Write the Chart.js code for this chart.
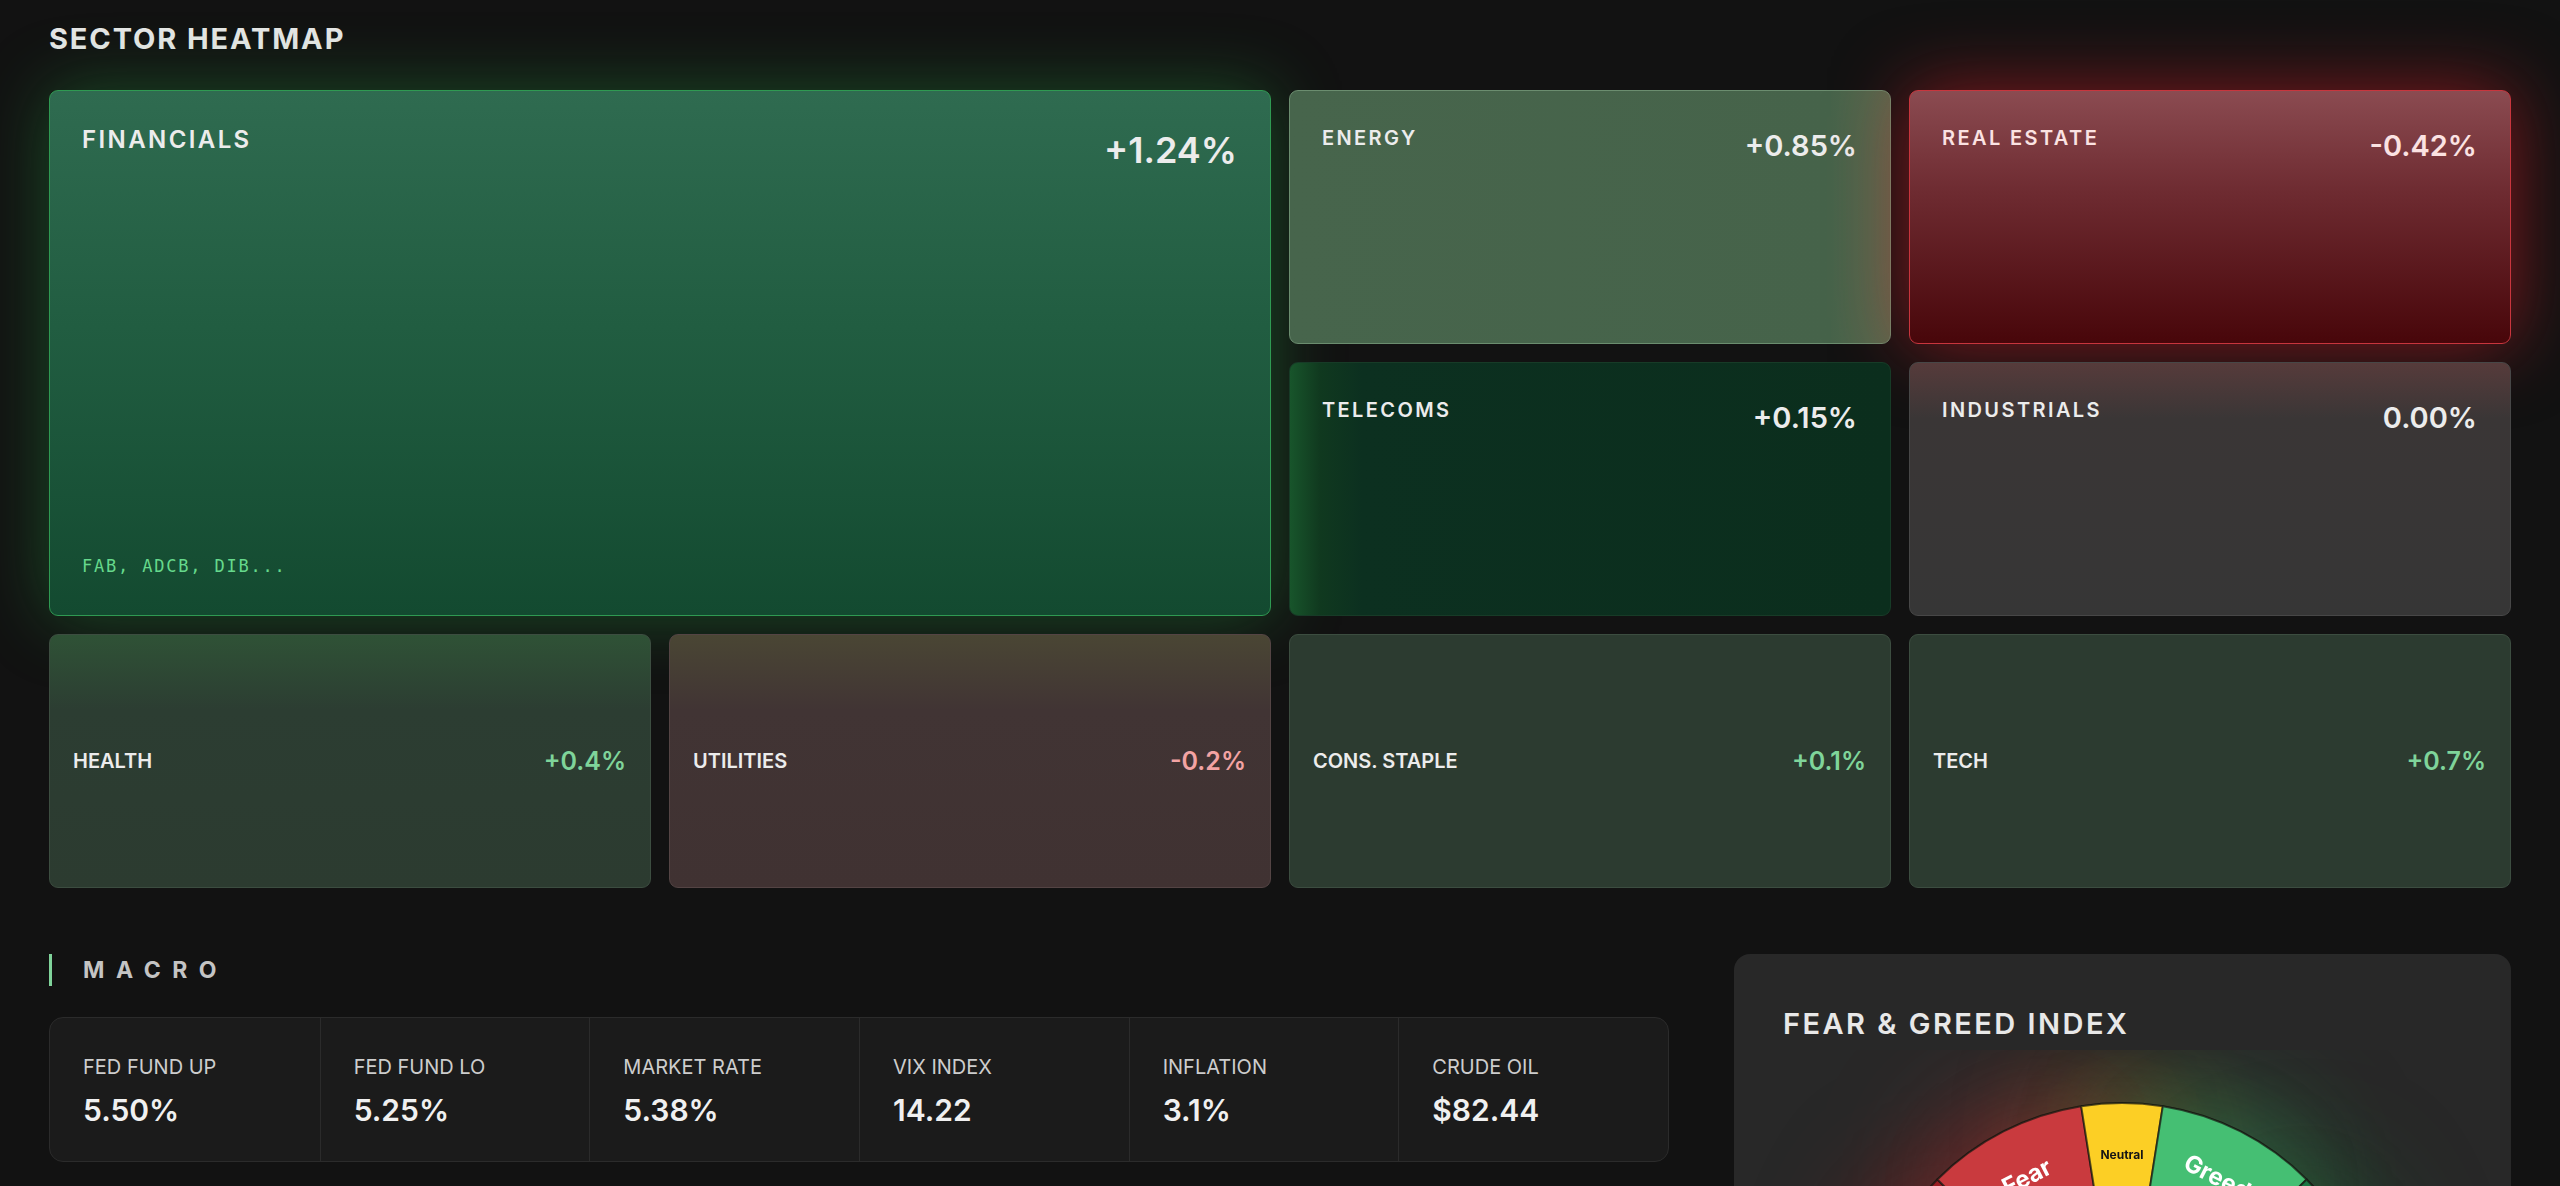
<!DOCTYPE html>
<html>
<head>
<meta charset="utf-8">
<title>Sector Heatmap</title>
<script src="https://cdn.jsdelivr.net/npm/chart.js@4.4.1/dist/chart.umd.min.js"></script>
<style>
  body {
    margin: 0;
    width: 2560px;
    height: 1186px;
    overflow: hidden;
    background: #121212;
    font-family: Inter, "Noto Sans", sans-serif;
    color: #ececec;
  }
  .page { padding-left: 49px; }
  .sec-title {
    margin: 21px 0 0;
    font-size: 29px;
    line-height: 35px;
    font-weight: 700;
    letter-spacing: 0.065em;
    color: #e6e6e6;
  }
  .heatmap {
    display: grid;
    grid-template-columns: repeat(4, 602px);
    grid-template-rows: repeat(3, 254px);
    gap: 18px;
    margin-top: 34px;
  }
  .tile {
    position: relative;
    box-sizing: border-box;
    border-radius: 9px;
    border: 1.5px solid #3c4d40;
    display: flex;
    justify-content: space-between;
    align-items: flex-start;
    padding: 35px 33px 0 32px;
  }
  .tile .name { font-size: 20px; line-height: 24px; font-weight: 600; letter-spacing: 0.12em; }
  .tile .chg { font-size: 29px; line-height: 35px; font-weight: 600; margin-top: 2px; }
  .tile.big { grid-column: span 2; grid-row: span 2; padding-top: 34px; }
  .tile.big .name { font-size: 24px; line-height: 29px; letter-spacing: 0.1em; }
  .tile.big .chg { font-size: 36px; line-height: 44px; margin-top: 3px; }
  .tile .holdings {
    position: absolute;
    left: 32px;
    bottom: 39px;
    font-family: "DejaVu Sans Mono", monospace;
    font-size: 17px;
    letter-spacing: 1.8px;
    color: #66d98c;
  }
  .tile.small { align-items: center; padding: 0 24px 0 23px; }
  .tile.small .name { letter-spacing: 0; }
  .tile.small .chg { font-size: 25px; line-height: 30px; margin-top: 0; }
  .tile.small .chg.up { color: #7fd49a; }
  .tile.small .chg.down { color: #f3a3a3; }

  .t-fin {
    background: linear-gradient(180deg, #2f6b50 0%, #215d41 45%, #134a30 100%);
    border-color: #2f9a52;
    box-shadow: 0 0 70px rgba(40, 170, 70, 0.38);
  }
  .t-energy {
    background: linear-gradient(90deg, #47654c 0%, #46634a 90%, #56684d 100%);
    border-color: #6b8d6f;
  }
  .t-real {
    background: linear-gradient(180deg, #8b4b51 0%, #6e2b31 40%, #48060a 100%);
    border-color: #c8353d;
    box-shadow: 0 0 75px rgba(225, 30, 40, 0.55);
  }
  .t-real .name, .t-real .chg { color: #fbe2e2; }
  .t-tel {
    background: linear-gradient(90deg, #18552b 0%, #10391f 5%, #0c3020 12%, #0b2e1d 100%);
    border-color: #173b27;
  }
  .t-ind {
    background: linear-gradient(180deg, #563b3b 0%, #3a3636 22%, #363636 100%);
    border-color: #474747;
  }
  .t-health {
    background: linear-gradient(180deg, #2f5236 0%, #2c3d32 30%, #2c3b30 100%);
    border-color: #3c4d40;
  }
  .t-util {
    background: linear-gradient(180deg, #4a4634 0%, #413434 30%, #403232 100%);
    border-color: #544444;
  }
  .t-cons, .t-tech {
    background: #2c3b30;
    border-color: #3c4d40;
  }

  .bottom { display: flex; margin-top: 66px; }
  .macro-col { width: 1620px; }
  .macro-head {
    height: 32px;
    border-left: 3px solid #7fd39a;
    padding-left: 31px;
    font-size: 23px;
    line-height: 32px;
    font-weight: 700;
    letter-spacing: 0.5em;
    color: #c4c4c4;
  }
  .macro-panel {
    margin-top: 31px;
    height: 145px;
    box-sizing: border-box;
    display: grid;
    grid-template-columns: repeat(6, 1fr);
    background: #1b1b1b;
    border: 1px solid #2b2b2b;
    border-radius: 14px;
  }
  .macro-cell { padding: 37px 0 0 33px; border-left: 1px solid #2b2b2b; }
  .macro-cell:first-child { border-left: none; }
  .m-label { font-size: 20px; line-height: 24px; color: #cdcdcd; }
  .m-val { font-size: 30px; line-height: 36px; font-weight: 600; margin-top: 13px; color: #f0f0f0; }

  .fg {
    position: relative;
    margin-left: 65px;
    width: 777px;
    height: 420px;
    box-sizing: border-box;
    padding: 52px 0 0 49px;
    background: #282828;
    border-radius: 16px;
  }
  .fg h2 {
    margin: 0;
    font-size: 29px;
    line-height: 35px;
    font-weight: 600;
    letter-spacing: 0.085em;
    color: #e8e8e8;
  }
  #fearGreed { position: absolute; left: 0; top: 96px; }
</style>
</head>
<body>
<div class="page">
  <h1 class="sec-title">SECTOR HEATMAP</h1>
  <div class="heatmap" id="heatmap"></div>

  <div class="bottom">
    <div class="macro-col">
      <div class="macro-head">MACRO</div>
      <div class="macro-panel" id="macro"></div>
    </div>
    <div class="fg">
      <h2>FEAR &amp; GREED INDEX</h2>
      <canvas id="fearGreed" width="777" height="360"></canvas>
    </div>
  </div>
</div>

<script>
// sector heatmap
const sectorNames = ['FINANCIALS', 'ENERGY', 'REAL ESTATE', 'TELECOMS', 'INDUSTRIALS', 'HEALTH', 'UTILITIES', 'CONS. STAPLE', 'TECH'];
const sectorChanges = [1.24, 0.85, -0.42, 0.15, 0.00, 0.4, -0.2, 0.1, 0.7];
const sectorDecimals = [2, 2, 2, 2, 2, 1, 1, 1, 1];
const sectorClasses = ['big t-fin', 't-energy', 't-real', 't-tel', 't-ind', 'small t-health', 'small t-util', 'small t-cons', 'small t-tech'];
const financialsHoldings = 'FAB, ADCB, DIB...';

// macro strip
const macroLabels = ['FED FUND UP', 'FED FUND LO', 'MARKET RATE', 'VIX INDEX', 'INFLATION', 'CRUDE OIL'];
const macroValues = ['5.50%', '5.25%', '5.38%', '14.22', '3.1%', '$82.44'];

// fear & greed gauge
const zoneLabels = ['Extreme Fear', 'Fear', 'Neutral', 'Greed', 'Extreme Greed'];
const zoneWidths = [25, 20, 10, 20, 25];
const zoneColors = ['#9a1d22', '#c93a3e', '#fccf25', '#45bf73', '#1b7744'];
const zoneGlow = ['rgba(210,40,40,0.6)', 'rgba(220,60,60,0.65)', 'rgba(240,200,50,0.5)', 'rgba(70,200,110,0.6)', 'rgba(30,150,70,0.6)'];
const zoneText = ['#ffffff', '#ffffff', '#151515', '#ffffff', '#ffffff'];
const zoneFont = [20, 24, 12, 24, 20];

const fmtChange = (v, d) => {
  const s = Math.abs(v).toFixed(d) + '%';
  if (v > 0) return '+' + s;
  if (v < 0) return '-' + s;
  return s;
};

const heatmap = document.getElementById('heatmap');
sectorNames.forEach((name, i) => {
  const tile = document.createElement('div');
  tile.className = 'tile ' + sectorClasses[i];
  const label = document.createElement('div');
  label.className = 'name';
  label.textContent = name;
  const chg = document.createElement('div');
  chg.className = 'chg ' + (sectorChanges[i] > 0 ? 'up' : sectorChanges[i] < 0 ? 'down' : 'flat');
  chg.textContent = fmtChange(sectorChanges[i], sectorDecimals[i]);
  tile.appendChild(label);
  tile.appendChild(chg);
  if (i === 0) {
    const h = document.createElement('div');
    h.className = 'holdings';
    h.textContent = financialsHoldings;
    tile.appendChild(h);
  }
  heatmap.appendChild(tile);
});

const macro = document.getElementById('macro');
macroLabels.forEach((label, i) => {
  const cell = document.createElement('div');
  cell.className = 'macro-cell';
  cell.innerHTML = '<div class="m-label">' + label + '</div><div class="m-val">' + macroValues[i] + '</div>';
  macro.appendChild(cell);
});

// soft coloured halo behind each zone
const glowPlugin = {
  id: 'zoneGlow',
  beforeDatasetsDraw(chart) {
    const ctx = chart.ctx;
    chart.getDatasetMeta(0).data.forEach((arc, i) => {
      ctx.save();
      ctx.shadowColor = zoneGlow[i];
      ctx.shadowBlur = 120;
      arc.draw(ctx);
      ctx.restore();
    });
  }
};

// zone names written along the ring
const zoneLabelPlugin = {
  id: 'zoneLabels',
  afterDatasetsDraw(chart) {
    const ctx = chart.ctx;
    chart.getDatasetMeta(0).data.forEach((arc, i) => {
      const p = arc.getProps(['x', 'y', 'startAngle', 'endAngle', 'innerRadius', 'outerRadius'], true);
      const mid = (p.startAngle + p.endAngle) / 2;
      const r = (p.innerRadius + p.outerRadius) / 2;
      ctx.save();
      ctx.translate(p.x + Math.cos(mid) * r, p.y + Math.sin(mid) * r);
      ctx.rotate(mid + Math.PI / 2);
      ctx.font = '700 ' + zoneFont[i] + 'px Inter, sans-serif';
      ctx.fillStyle = zoneText[i];
      ctx.textAlign = 'center';
      ctx.textBaseline = 'middle';
      ctx.fillText(zoneLabels[i], 0, 0);
      ctx.restore();
    });
  }
};

const gauge = new Chart(document.getElementById('fearGreed'), {
  type: 'doughnut',
  data: {
    labels: zoneLabels,
    datasets: [{
      data: zoneWidths,
      backgroundColor: zoneColors,
      borderColor: 'rgba(24,24,18,0.7)',
      borderWidth: 2,
      hoverOffset: 0,
      offset: 0
    }]
  },
  options: {
    responsive: false,
    animation: false,
    events: [],
    rotation: -90,
    circumference: 180,
    cutout: '60%',
    layout: { padding: { top: 52, bottom: 45, left: 126, right: 127 } },
    plugins: {
      legend: { display: false },
      tooltip: { enabled: false }
    }
  },
  plugins: [glowPlugin, zoneLabelPlugin]
});
</script>
</body>
</html>
